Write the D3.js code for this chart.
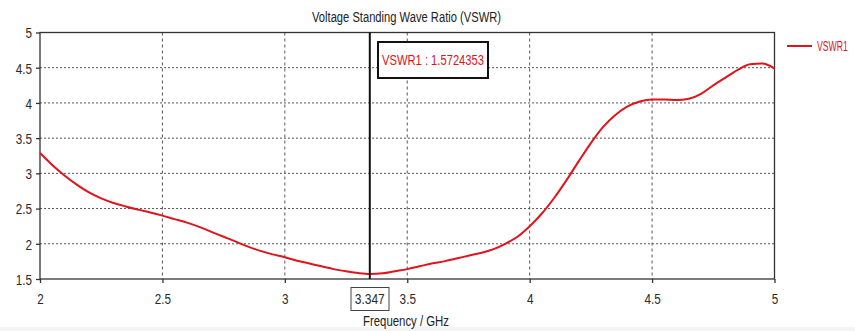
<!DOCTYPE html>
<html>
<head>
<meta charset="utf-8">
<script src="https://cdn.jsdelivr.net/npm/d3@7"></script>
<style>
  html, body { margin: 0; padding: 0; background: #fff; }
  svg { display: block; }
  text { font-family: "Liberation Sans", Arial, sans-serif; }
</style>
</head>
<body>
<svg id="chart" width="855" height="331"></svg>
<script>
// ---- data ----
const titleText = "Voltage Standing Wave Ratio (VSWR)";
const xLabelText = "Frequency / GHz";
const seriesName = "VSWR1";
const xTicks = [2, 2.5, 3, 3.5, 4, 4.5, 5];
const yTicks = [1.5, 2, 2.5, 3, 3.5, 4, 4.5, 5];
const markerFreq = 3.347;
const markerValue = "1.5724353";
const freq = [2.00,2.05,2.10,2.15,2.20,2.25,2.30,2.35,2.40,2.45,2.50,2.55,2.60,2.65,2.70,2.75,2.80,2.85,2.90,2.95,
              3.00,3.05,3.10,3.15,3.20,3.25,3.30,3.347,3.40,3.45,3.50,3.55,3.60,3.65,3.70,3.75,3.80,3.85,3.90,3.95,
              4.00,4.05,4.10,4.15,4.20,4.25,4.30,4.35,4.40,4.45,4.50,4.55,4.60,4.65,4.70,4.75,4.80,4.85,4.90,4.95,5.00];
const vswr = [3.29,3.12,2.97,2.84,2.73,2.645,2.58,2.53,2.485,2.445,2.40,2.35,2.30,2.24,2.17,2.10,2.03,1.96,1.90,1.85,
              1.81,1.76,1.72,1.68,1.64,1.61,1.585,1.5724,1.58,1.61,1.64,1.68,1.72,1.75,1.79,1.83,1.87,1.92,2.00,2.10,
              2.25,2.43,2.65,2.90,3.17,3.43,3.66,3.83,3.95,4.02,4.05,4.05,4.04,4.06,4.13,4.25,4.36,4.47,4.55,4.56,4.49];

// ---- layout ----
const svg = d3.select("#chart");
const L = 40, R = 774.5, T = 32.5, B = 279;
const x = d3.scaleLinear().domain([2, 5]).range([L, R]);
const y = d3.scaleLinear().domain([1.5, 5]).range([B, T]);
const HS = 0.78; // horizontal squeeze of the font
const red = "#e0141c";
const axisCol = "#333";

function squeeze(sel, len) {
  sel.each(function() {
    const t = d3.select(this);
    const w = len != null ? len : this.getComputedTextLength() * HS;
    t.attr("textLength", w).attr("lengthAdjust", "spacingAndGlyphs");
  });
}

// bottom band
svg.append("rect").attr("x", 0).attr("y", 327).attr("width", 855).attr("height", 4).attr("fill", "#f4f4f4");

// grid
svg.append("g").selectAll("line").data(yTicks.filter(d => d > 1.5 && d < 5)).join("line")
  .attr("x1", L).attr("x2", R).attr("y1", d => y(d)).attr("y2", d => y(d))
  .attr("stroke", "#555").attr("stroke-width", 1).attr("stroke-dasharray", "2,2");
svg.append("g").selectAll("line").data(xTicks.filter(d => d > 2 && d < 5)).join("line")
  .attr("x1", d => x(d)).attr("x2", d => x(d)).attr("y1", T).attr("y2", B)
  .attr("stroke", "#555").attr("stroke-width", 1).attr("stroke-dasharray", "3,3");

// axes
const yAxis = d3.axisLeft(y).tickValues(yTicks).tickSize(4).tickPadding(4).tickFormat(d3.format("~g"));
const xAxis = d3.axisBottom(x).tickValues(xTicks).tickSize(4).tickPadding(10).tickFormat(d3.format("~g"));
const gy = svg.append("g").attr("transform", `translate(${L},0)`).call(yAxis);
const gx = svg.append("g").attr("transform", `translate(0,${B})`).call(xAxis);
[gy, gx].forEach(g => {
  g.select(".domain").remove();
  g.selectAll("line").attr("stroke", axisCol).attr("stroke-width", 1.3);
  g.selectAll("text").attr("font-size", 15).attr("fill", "#2a2a2a")
    .style("font-family", '"Liberation Sans", Arial, sans-serif');
});
gy.selectAll("text").attr("dy", "0.36em");
gx.selectAll("text").attr("dy", "0.72em");
gy.selectAll("text").call(squeeze);
gx.selectAll("text").call(squeeze);

// frame
svg.append("rect").attr("x", L).attr("y", T).attr("width", R - L).attr("height", B - T)
  .attr("fill", "none").attr("stroke", axisCol).attr("stroke-width", 1.3);

// curve
const line = d3.line().x((d, i) => x(freq[i])).y(d => y(d)).curve(d3.curveMonotoneX);
svg.append("path").datum(vswr).attr("d", line)
  .attr("fill", "none").attr("stroke", red).attr("stroke-width", 2).attr("stroke-linejoin", "round");

// marker line
svg.append("line").attr("x1", x(markerFreq)).attr("x2", x(markerFreq)).attr("y1", T).attr("y2", B)
  .attr("stroke", "#111").attr("stroke-width", 2);

// marker label box
svg.append("rect").attr("x", 378).attr("y", 42).attr("width", 110).attr("height", 36)
  .attr("fill", "#fff").attr("stroke", "#111").attr("stroke-width", 2);
svg.append("text").attr("x", 433).attr("y", 60).attr("dy", "0.36em").attr("text-anchor", "middle")
  .attr("font-size", 15).attr("fill", red)
  .text(`${seriesName} : ${markerValue}`).call(squeeze, 102);

// marker freq box at the axis
svg.append("rect").attr("x", 351).attr("y", 287.5).attr("width", 38).attr("height", 23)
  .attr("fill", "#fff").attr("stroke", "#444").attr("stroke-width", 1);
svg.append("text").attr("x", x(markerFreq)).attr("y", 299).attr("dy", "0.36em").attr("text-anchor", "middle")
  .attr("font-size", 15).attr("fill", "#2a2a2a").text(markerFreq).call(squeeze, 30);

// title
svg.append("text").attr("x", 406.5).attr("y", 21.5).attr("text-anchor", "middle")
  .attr("font-size", 15.5).attr("fill", "#222").text(titleText).call(squeeze, 189);

// x axis label
svg.append("text").attr("x", 406).attr("y", 326).attr("text-anchor", "middle")
  .attr("font-size", 15.5).attr("fill", "#222").text(xLabelText).call(squeeze, 86);

// legend
svg.append("line").attr("x1", 787).attr("x2", 812).attr("y1", 46).attr("y2", 46)
  .attr("stroke", red).attr("stroke-width", 2);
const legText = svg.append("text").attr("x", 0).attr("y", 0).attr("dy", "0.36em")
  .attr("font-size", 15).attr("fill", red).text(seriesName);
const legW = legText.node().getComputedTextLength();
legText.attr("transform", `translate(817,46) scale(${31 / legW},1)`);
</script>
</body>
</html>
